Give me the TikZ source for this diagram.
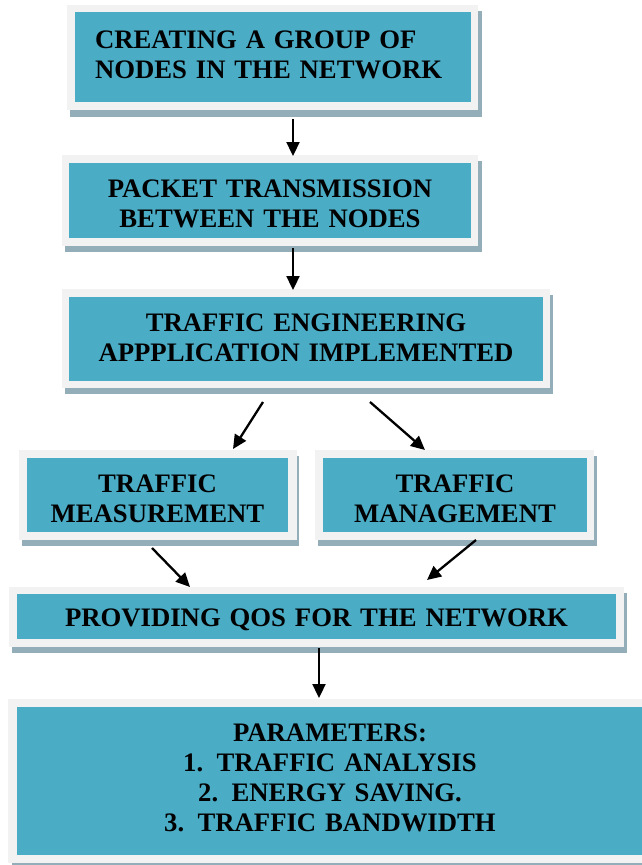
\documentclass[tikz,border=0pt]{standalone}
\usepackage{fontspec}
\setmainfont{Liberation Serif}
\usetikzlibrary{arrows.meta}
\definecolor{tealc}{HTML}{4BACC6}
\definecolor{framec}{HTML}{F2F2F2}
\definecolor{shadowc}{HTML}{93AEB8}
\begin{document}
\begin{tikzpicture}[x=1pt,y=-1pt,
  tbox/.style={fill=tealc, inner sep=0pt, text height=20pt, align=center,
    font=\fontsize{26.7}{30}\selectfont\bfseries},
  arr/.style={line width=2.3pt, -{Triangle[length=14pt,width=13pt]}}]
\useasboundingbox (0,0) rectangle (642,865);
\fill[white] (0,0) rectangle (642,865);
% Box 1
\fill[shadowc] (70,11) rectangle (482,117);
\fill[framec] (67,5) rectangle (478,110);
\node[tbox, align=left, minimum width=396pt, minimum height=90pt, text width=356pt, inner xsep=20pt, text depth=38pt] (b1) at (273,57) {CREATING A GROUP OF\\NODES IN THE NETWORK};
% Box 2
\fill[shadowc] (65,161) rectangle (482,252);
\fill[framec] (62,155) rectangle (478,246);
\node[tbox, minimum width=402pt, minimum height=75pt, text width=402pt, text depth=27pt] (b2) at (270,200.5) {PACKET TRANSMISSION\\BETWEEN THE NODES};
% Box 3
\fill[shadowc] (65,295) rectangle (553,394);
\fill[framec] (62,289) rectangle (550,388);
\node[tbox, minimum width=474pt, minimum height=84pt, text width=474pt, text depth=36pt] (b3) at (306,339) {TRAFFIC ENGINEERING\\APPPLICATION IMPLEMENTED};
% Box 4
\fill[shadowc] (22,456) rectangle (299,546);
\fill[framec] (19,450) rectangle (297,540);
\node[tbox, minimum width=261pt, minimum height=74pt, text width=261pt, text depth=26pt] (b4) at (157.5,495) {TRAFFIC\\MEASUREMENT};
% Box 5
\fill[shadowc] (318,456) rectangle (597,546);
\fill[framec] (315,450) rectangle (594,540);
\node[tbox, minimum width=264pt, minimum height=74pt, text width=264pt, text depth=26pt] (b5) at (455,495) {TRAFFIC\\MANAGEMENT};
% Box 6
\fill[shadowc] (12,593) rectangle (627,653);
\fill[framec] (9,587) rectangle (624,647);
\node[tbox, minimum width=599pt, minimum height=45pt, text width=599pt, text depth=0pt] (b6) at (316.5,616.5) {PROVIDING QOS FOR THE NETWORK};
% Box 7
\fill[shadowc] (12,863) rectangle (655,869);
\fill[framec] (8,699) rectangle (652,863);
\node[tbox, minimum width=626pt, minimum height=148pt, text width=626pt, text depth=100pt] (b7) at (330,781) {PARAMETERS:\\1. TRAFFIC ANALYSIS\\2. ENERGY SAVING.\\3. TRAFFIC BANDWIDTH};
% Arrow ends
\coordinate (a1s) at (293,119);
\coordinate (a1e) at (293,156);
\coordinate (a2s) at (293,248);
\coordinate (a2e) at (293,290);
\coordinate (a3s) at (263,402);
\coordinate (a3e) at (233,449);
\coordinate (a4s) at (370,402);
\coordinate (a4e) at (425,450);
\coordinate (a5s) at (152,548);
\coordinate (a5e) at (190,587);
\coordinate (a6s) at (476,540);
\coordinate (a6e) at (427,580);
\coordinate (a7s) at (319,648);
\coordinate (a7e) at (319,698);
\draw[arr] (a1s) -- (a1e);
\draw[arr] (a2s) -- (a2e);
\draw[arr] (a3s) -- (a3e);
\draw[arr] (a4s) -- (a4e);
\draw[arr] (a5s) -- (a5e);
\draw[arr] (a6s) -- (a6e);
\draw[arr] (a7s) -- (a7e);
\end{tikzpicture}
\end{document}
